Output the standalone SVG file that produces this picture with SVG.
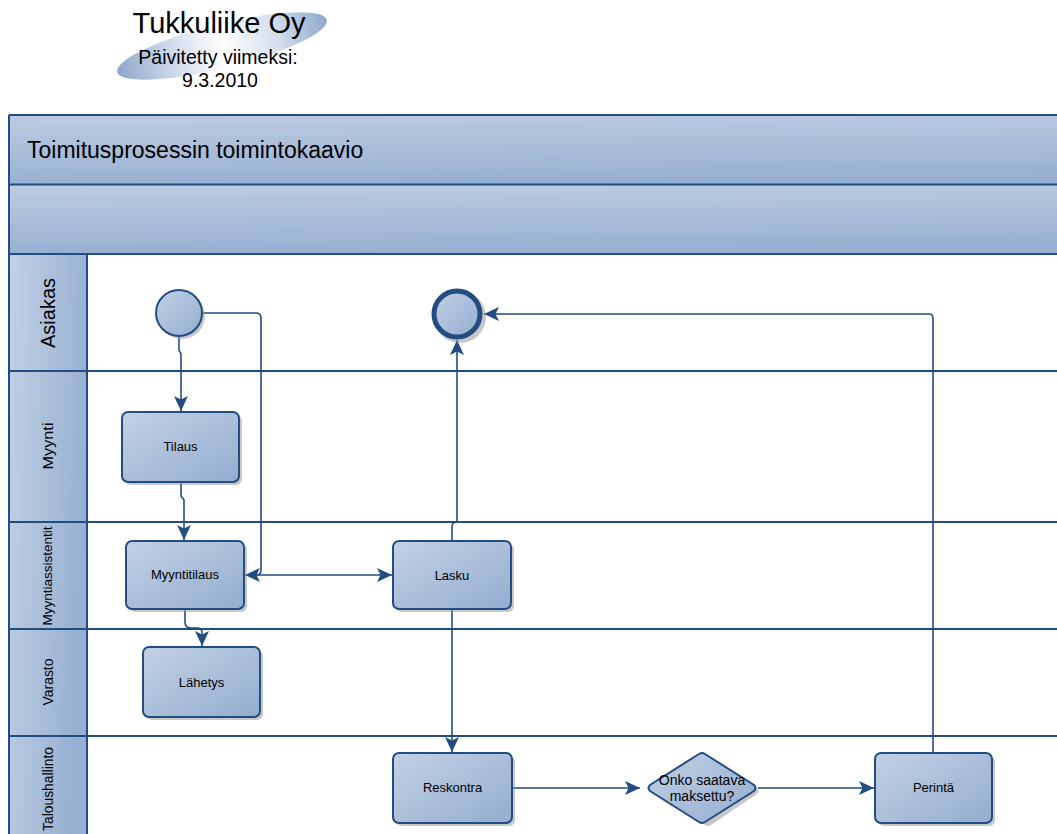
<svg xmlns="http://www.w3.org/2000/svg" width="1057" height="834" viewBox="0 0 1057 834">
  <defs>
    <linearGradient id="gNode" x1="0" y1="0" x2="1" y2="1">
      <stop offset="0" stop-color="#c2d1e5"/>
      <stop offset="1" stop-color="#93adcf"/>
    </linearGradient>
    <linearGradient id="gBand" x1="0" y1="0" x2="0.15" y2="1">
      <stop offset="0" stop-color="#bccce2"/>
      <stop offset="1" stop-color="#97b0d1"/>
    </linearGradient>
    <linearGradient id="gLane" x1="0" y1="0" x2="1" y2="0.3">
      <stop offset="0" stop-color="#c2d1e5"/>
      <stop offset="1" stop-color="#97b0d1"/>
    </linearGradient>
    <linearGradient id="gSwoosh" x1="0" y1="0" x2="1" y2="0">
      <stop offset="0" stop-color="#8ea8cc"/>
      <stop offset="0.3" stop-color="#d6e0ee"/>
      <stop offset="0.5" stop-color="#ffffff"/>
      <stop offset="0.75" stop-color="#d6e0ee"/>
      <stop offset="1" stop-color="#8ea8cc"/>
    </linearGradient>
    <marker id="arrB" viewBox="0 0 15 14" refX="15" refY="7" markerWidth="15" markerHeight="14" markerUnits="userSpaceOnUse" orient="auto-start-reverse">
      <path d="M0,0 L15,7 L0,14 L3.5,7 Z" fill="#234d80"/>
    </marker>
  </defs>
  <style>
    .node { fill: url(#gNode); stroke: #234d80; stroke-width: 2; }
    .shadow { fill: #9a9a9a; opacity: 0.55; }
    .lbl { font-family: "Liberation Sans", Arial, sans-serif; font-size: 13px; fill: #000; text-anchor: middle; }
    .lane-lbl { font-family: "Liberation Sans", Arial, sans-serif; font-size: 14px; fill: #000; text-anchor: middle; }
    .lane-line { stroke: #234d80; stroke-width: 2; fill: none; }
    .conn { stroke: #234d80; stroke-width: 1.6; fill: none; }
    .head { font-family: "Liberation Sans", Arial, sans-serif; fill: #000; }
  </style>

  <rect width="1057" height="834" fill="#ffffff"/>

  <!-- company title with swoosh -->
  <g id="title-block">
    <ellipse cx="222" cy="46" rx="108" ry="22" transform="rotate(-14 222 46)" fill="url(#gSwoosh)"/>
    <text class="head" x="219" y="33" style="font-size:29px" text-anchor="middle">Tukkuliike Oy</text>
    <text class="head" x="218" y="64" style="font-size:19.5px" text-anchor="middle">Päivitetty viimeksi:</text>
    <text class="head" x="220" y="87" style="font-size:19.5px" text-anchor="middle">9.3.2010</text>
  </g>

  <!-- pool with title band and lane header column -->
  <g id="pool">
    <rect x="9" y="115" width="1060" height="70" fill="url(#gBand)"/>
    <rect x="9" y="185" width="1060" height="69" fill="url(#gBand)"/>
    <text class="head" x="27" y="158" style="font-size:23px">Toimitusprosessin toimintokaavio</text>
    <rect x="9" y="254" width="78" height="590" fill="url(#gLane)"/>
    <path class="lane-line" d="M9,115 H1060 M9,184.5 H1060 M9,254 H1060 M9,371 H1060 M9,522 H1060 M9,629 H1060 M9,736 H1060 M9,115 V840 M87,254 V840"/>
  </g>

  <!-- lane labels -->
  <g id="lane-asiakas"><text class="lane-lbl" transform="translate(55,313) rotate(-90)" style="font-size:21px" textLength="70" lengthAdjust="spacingAndGlyphs">Asiakas</text></g>
  <g id="lane-myynti"><text class="lane-lbl" transform="translate(53,446) rotate(-90)" textLength="47" lengthAdjust="spacingAndGlyphs">Myynti</text></g>
  <g id="lane-myyntiassistentit"><text class="lane-lbl" transform="translate(52,576) rotate(-90)" style="font-size:13px" textLength="99" lengthAdjust="spacingAndGlyphs">Myyntiassistentit</text></g>
  <g id="lane-varasto"><text class="lane-lbl" transform="translate(53,682) rotate(-90)" textLength="47" lengthAdjust="spacingAndGlyphs">Varasto</text></g>
  <g id="lane-taloushallinto"><text class="lane-lbl" transform="translate(53,789) rotate(-90)" textLength="84" lengthAdjust="spacingAndGlyphs">Taloushallinto</text></g>

  <!-- connectors -->
  <g id="connectors">
    <path class="conn" d="M179,336 V350 L181,354 V411" marker-end="url(#arrB)"/>
    <path class="conn" d="M202,313 H256 Q261,313 261,318 V570 Q261,575 256,575 H245" marker-end="url(#arrB)"/>
    <path class="conn" d="M246,575 H392" marker-end="url(#arrB)"/>
    <path class="conn" d="M181,482 V496 L184,500 V540" marker-end="url(#arrB)"/>
    <path class="conn" d="M185,609 V622 Q185,628 191,628 L197,628 Q202,628 202,633 V646" marker-end="url(#arrB)"/>
    <path class="conn" d="M452,541 V527 Q452,522 457,522 V340" marker-end="url(#arrB)"/>
    <path class="conn" d="M452,609 V752" marker-end="url(#arrB)"/>
    <path class="conn" d="M512,788 H640" marker-end="url(#arrB)"/>
    <path class="conn" d="M758,788 H874" marker-end="url(#arrB)"/>
    <path class="conn" d="M933,753 V318 Q933,314 929,314 H484" marker-end="url(#arrB)"/>
  </g>

  <!-- nodes -->
  <g id="start">
    <circle class="shadow" cx="182" cy="316" r="23"/>
    <circle class="node" cx="179" cy="313" r="23"/>
  </g>
  <g id="end">
    <circle class="shadow" cx="460" cy="317" r="26"/>
    <circle class="node" cx="457" cy="314" r="23" style="stroke-width:5px"/>
  </g>
  <g id="tilaus">
    <rect class="shadow" x="125" y="415" width="117" height="70" rx="6"/>
    <rect class="node" x="122" y="412" width="117" height="70" rx="6"/>
    <text class="lbl" x="180.5" y="451">Tilaus</text>
  </g>
  <g id="myyntitilaus">
    <rect class="shadow" x="129" y="544" width="118" height="68" rx="6"/>
    <rect class="node" x="126" y="541" width="118" height="68" rx="6"/>
    <text class="lbl" x="185" y="579">Myyntitilaus</text>
  </g>
  <g id="lahetys">
    <rect class="shadow" x="146" y="650" width="117" height="70" rx="6"/>
    <rect class="node" x="143" y="647" width="117" height="70" rx="6"/>
    <text class="lbl" x="201.5" y="687">Lähetys</text>
  </g>
  <g id="lasku">
    <rect class="shadow" x="396" y="544" width="118" height="68" rx="6"/>
    <rect class="node" x="393" y="541" width="118" height="68" rx="6"/>
    <text class="lbl" x="452" y="580">Lasku</text>
  </g>
  <g id="reskontra">
    <rect class="shadow" x="396" y="756" width="119" height="70" rx="6"/>
    <rect class="node" x="393" y="753" width="119" height="70" rx="6"/>
    <text class="lbl" x="452.5" y="792">Reskontra</text>
  </g>
  <g id="onko-saatava-maksettu">
    <path class="shadow" d="M705,757 Q708,755 711,757 L757,788 Q760,791 757,794 L711,825 Q708,827 705,825 L659,794 Q656,791 659,788 Z"/>
    <path class="node" d="M699,754 Q702,752 705,754 L754,785 Q757,788 754,791 L705,822 Q702,824 699,822 L650,791 Q647,788 650,785 Z"/>
    <text class="lbl" x="702" y="785" style="font-size:14px">Onko saatava</text>
    <text class="lbl" x="702" y="801" style="font-size:14px">maksettu?</text>
  </g>
  <g id="perinta">
    <rect class="shadow" x="878" y="756" width="117" height="70" rx="6"/>
    <rect class="node" x="875" y="753" width="117" height="70" rx="6"/>
    <text class="lbl" x="933.5" y="792">Perintä</text>
  </g>
</svg>
